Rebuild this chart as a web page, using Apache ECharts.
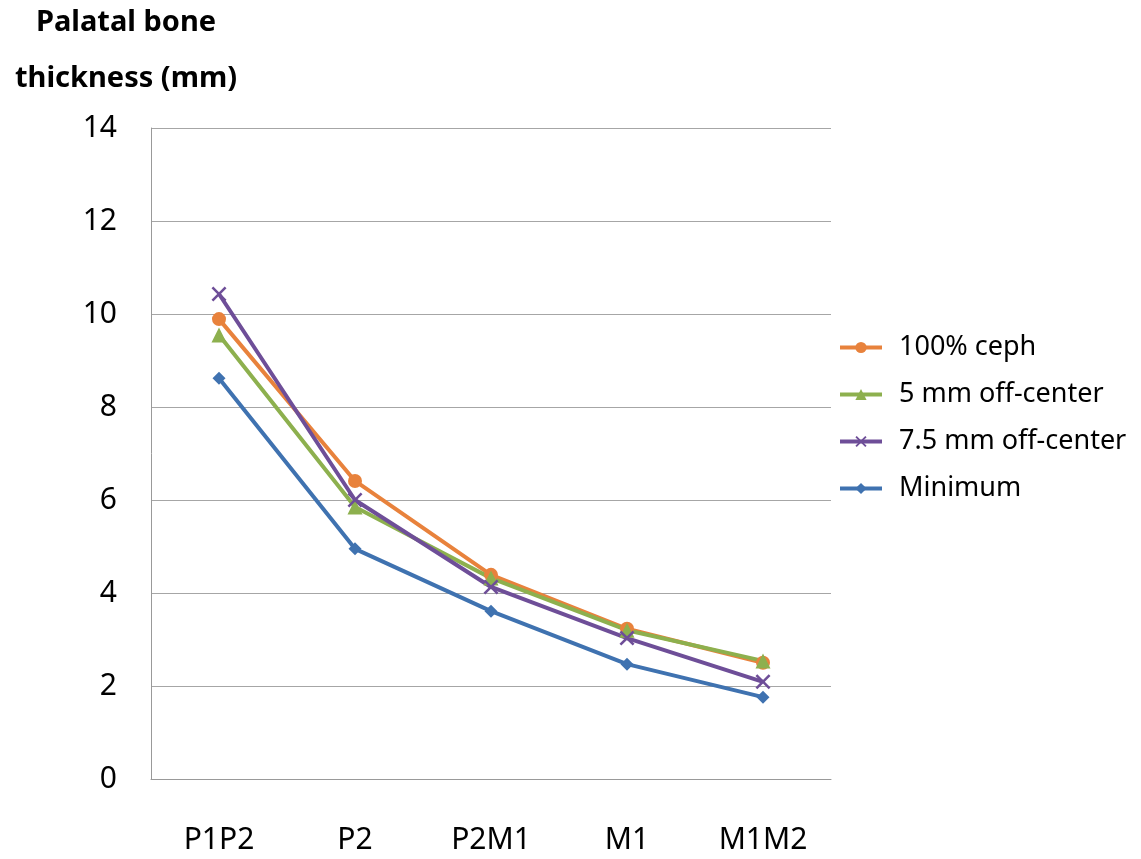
<!DOCTYPE html>
<html><head><meta charset="utf-8">
<script src="https://cdn.jsdelivr.net/npm/echarts@6/dist/echarts.min.js"></script>
<style>html,body{margin:0;padding:0;background:#fff}#c{width:1141px;height:859px}</style>
</head><body><div id="c"></div>
<script>
const categories = ['P1P2', 'P2', 'P2M1', 'M1', 'M1M2'];
const ceph100 = [9.89, 6.41, 4.39, 3.23, 2.50];
const off5 = [9.55, 5.85, 4.32, 3.20, 2.54];
const off75 = [10.43, 6.00, 4.13, 3.03, 2.09];
const minimum = [8.62, 4.95, 3.61, 2.47, 1.76];
const yTicks = [0, 2, 4, 6, 8, 10, 12, 14];
const seriesNames = ['100% ceph', '5 mm off-center', '7.5 mm off-center', 'Minimum'];
const titleLines = ['Palatal bone', 'thickness (mm)'];

const FONT = '"Noto Sans", "Open Sans", sans-serif';
const colors = ['#E8823C', '#8DB04E', '#6E4E98', '#3F72B0'];
const crossPath = 'path://M0,0.12 L0.12,0 L0.5,0.38 L0.88,0 L1,0.12 L0.62,0.5 L1,0.88 L0.88,1 L0.5,0.62 L0.12,1 L0,0.88 L0.38,0.5 Z';

const chart = echarts.init(document.getElementById('c'));
const mk = (name, data, color, symbol, size) => ({
  name, type: 'line', data, symbol, symbolSize: size, showSymbol: true,
  lineStyle: { color, width: 4 }, itemStyle: { color }, z: 3
});
chart.setOption({
  animation: false,
  color: colors,
  graphic: titleLines.map((t, i) => ({
    type: 'text', x: 126, y: 23 + i * 56,
    style: { text: t, fontFamily: FONT, fontSize: 29, fontWeight: 'bold', fill: '#000',
             textAlign: 'center', textVerticalAlign: 'middle' }
  })),
  legend: {
    orient: 'vertical', left: 838, top: 334, padding: 0,
    itemWidth: 42, itemHeight: 14, itemGap: 20,
    lineStyle: { width: 4 },
    textStyle: { fontFamily: FONT, fontSize: 27, color: '#000', padding: [0, 0, 0, 12] },
    data: seriesNames
  },
  grid: { left: 151, right: 310, top: 128, bottom: 80 },
  xAxis: {
    type: 'category', data: categories, boundaryGap: true,
    axisLine: { lineStyle: { color: '#999', width: 1 } },
    axisTick: { show: false },
    axisLabel: { fontFamily: FONT, fontSize: 30, color: '#000', margin: 46 }
  },
  yAxis: {
    type: 'value', min: yTicks[0], max: yTicks[yTicks.length - 1], interval: 2,
    axisLine: { show: true, lineStyle: { color: '#999', width: 1 } },
    axisTick: { show: false },
    axisLabel: { fontFamily: FONT, fontSize: 30, color: '#000', margin: 34 },
    splitLine: { lineStyle: { color: '#A6A6A6', width: 1 } }
  },
  series: [
    mk(seriesNames[0], ceph100, colors[0], 'circle', 14),
    mk(seriesNames[1], off5, colors[1], 'triangle', 15),
    mk(seriesNames[2], off75, colors[2], crossPath, 15),
    mk(seriesNames[3], minimum, colors[3], 'diamond', 13)
  ]
});
</script></body></html>
